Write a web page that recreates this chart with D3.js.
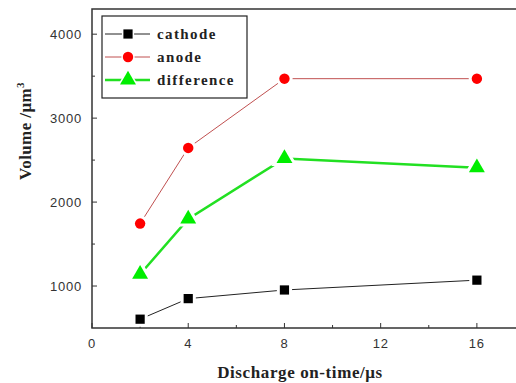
<!DOCTYPE html>
<html>
<head>
<meta charset="utf-8">
<script src="https://cdn.jsdelivr.net/npm/d3@7"></script>
<style>
  body { margin: 0; background: #fff; }
  svg { display: block; }
</style>
</head>
<body>
<div id="chart"></div>
<script>
// discharge on-time (us)
var onTime = [2, 4, 8, 16];
var cathode = [605, 850, 953, 1070];
var anode = [1744, 2645, 3470, 3470];
var difference = [1140, 1800, 2520, 2410];

var xTicks = [0, 4, 8, 12, 16];
var yTicks = [1000, 2000, 3000, 4000];

(function() {
	var width = 516, height = 383;
	var margin = { top: 9, left: 92, bottom: 55 };

	var svg = d3.select("#chart")
		.append("svg")
		.attr("width", width)
		.attr("height", height);

	var xScale = d3.scaleLinear()
		.domain([0, 18])
		.range([margin.left, 525]);

	var yScale = d3.scaleLinear()
		.domain([500, 4300])
		.range([height - margin.bottom, margin.top]);

	var x0 = xScale.range()[0], x1 = xScale.range()[1];
	var y0 = yScale.range()[0], y1 = yScale.range()[1];

	// frame
	svg.append("rect")
		.attr("x", x0)
		.attr("y", y1)
		.attr("width", x1 - x0)
		.attr("height", y0 - y1)
		.attr("fill", "none")
		.attr("stroke", "#333")
		.attr("stroke-width", 1.5);

	// x ticks (inward)
	var xMinor = d3.range(2, 18, 4);
	svg.selectAll(".xtick")
		.data(xTicks)
		.enter()
		.append("line")
		.attr("x1", function(d) { return xScale(d); })
		.attr("x2", function(d) { return xScale(d); })
		.attr("y1", y0)
		.attr("y2", y0 - 5)
		.attr("stroke", "#333");
	svg.selectAll(".xminor")
		.data(xMinor)
		.enter()
		.append("line")
		.attr("x1", function(d) { return xScale(d); })
		.attr("x2", function(d) { return xScale(d); })
		.attr("y1", y0)
		.attr("y2", y0 - 3)
		.attr("stroke", "#333");
	svg.selectAll(".xlabel")
		.data(xTicks)
		.enter()
		.append("text")
		.attr("x", function(d) { return xScale(d); })
		.attr("y", y0 + 20)
		.attr("text-anchor", "middle")
		.attr("font-family", "Liberation Sans, Arial, sans-serif")
		.attr("font-size", 13)
		.attr("letter-spacing", 0.8)
		.attr("fill", "#333")
		.text(function(d) { return d; });

	// y ticks (inward)
	var yMinor = [1500, 2500, 3500];
	svg.selectAll(".ytick")
		.data(yTicks)
		.enter()
		.append("line")
		.attr("x1", x0)
		.attr("x2", x0 + 5)
		.attr("y1", function(d) { return yScale(d); })
		.attr("y2", function(d) { return yScale(d); })
		.attr("stroke", "#333");
	svg.selectAll(".yminor")
		.data(yMinor)
		.enter()
		.append("line")
		.attr("x1", x0)
		.attr("x2", x0 + 3)
		.attr("y1", function(d) { return yScale(d); })
		.attr("y2", function(d) { return yScale(d); })
		.attr("stroke", "#333");
	svg.selectAll(".ylabel")
		.data(yTicks)
		.enter()
		.append("text")
		.attr("x", x0 - 10)
		.attr("y", function(d) { return yScale(d) + 5; })
		.attr("text-anchor", "end")
		.attr("font-family", "Liberation Sans, Arial, sans-serif")
		.attr("font-size", 13)
		.attr("letter-spacing", 0.8)
		.attr("fill", "#333")
		.text(function(d) { return d; });

	// axis titles
	svg.append("text")
		.attr("x", 300)
		.attr("y", 378)
		.attr("text-anchor", "middle")
		.attr("font-family", "Liberation Serif, Times New Roman, serif")
		.attr("font-weight", "bold")
		.attr("font-size", 17)
		.attr("letter-spacing", 0.6)
		.attr("fill", "#222")
		.text("Discharge on-time/μs");

	var yt = svg.append("text")
		.attr("transform", "translate(31,131) rotate(-90)")
		.attr("text-anchor", "middle")
		.attr("font-family", "Liberation Serif, Times New Roman, serif")
		.attr("font-weight", "bold")
		.attr("font-size", 17)
		.attr("letter-spacing", 0.4)
		.attr("fill", "#222");
	yt.append("tspan").text("Volume /μm");
	yt.append("tspan").attr("dy", -7).attr("font-size", 11).text("3");

	var series = [
		{ name: "cathode", values: cathode, line: "#222", marker: "#000", width: 1, shape: d3.symbolSquare, size: 85 },
		{ name: "anode", values: anode, line: "#c05050", marker: "#ff0000", width: 1, shape: d3.symbolCircle, size: 85 },
		{ name: "difference", values: difference, line: "#22e022", marker: "#00ee00", width: 2.5, shape: d3.symbolTriangle, size: 110 }
	];

	var line = d3.line()
		.x(function(d) { return xScale(d[0]); })
		.y(function(d) { return yScale(d[1]); });

	series.forEach(function(s) {
		var pts = onTime.map(function(t, i) { return [t, s.values[i]]; });
		svg.append("path")
			.attr("d", line(pts))
			.attr("fill", "none")
			.attr("stroke", s.line)
			.attr("stroke-width", s.width);
		var sym = d3.symbol().type(s.shape).size(s.size);
		// white halo gives the gap between line and marker
		svg.selectAll(".halo-" + s.name)
			.data(pts)
			.enter()
			.append("path")
			.attr("d", sym)
			.attr("transform", function(d) { return "translate(" + xScale(d[0]) + "," + yScale(d[1]) + ")"; })
			.attr("fill", "#fff")
			.attr("stroke", "#fff")
			.attr("stroke-width", 6);
		svg.selectAll(".pt-" + s.name)
			.data(pts)
			.enter()
			.append("path")
			.attr("d", sym)
			.attr("transform", function(d) { return "translate(" + xScale(d[0]) + "," + yScale(d[1]) + ")"; })
			.attr("fill", s.marker);
	});

	// legend
	var lg = svg.append("g").attr("transform", "translate(102,16)");
	lg.append("rect")
		.attr("width", 145)
		.attr("height", 82)
		.attr("fill", "#fff")
		.attr("stroke", "#222")
		.attr("stroke-width", 1.2);
	series.forEach(function(s, i) {
		var yy = 18 + i * 23;
		var sym = d3.symbol().type(s.shape).size(s.size);
		lg.append("line")
			.attr("x1", 3).attr("x2", 48)
			.attr("y1", yy).attr("y2", yy)
			.attr("stroke", s.line)
			.attr("stroke-width", s.width);
		lg.append("path")
			.attr("d", sym)
			.attr("transform", "translate(26," + yy + ")")
			.attr("fill", "#fff")
			.attr("stroke", "#fff")
			.attr("stroke-width", 3);
		lg.append("path")
			.attr("d", sym)
			.attr("transform", "translate(26," + yy + ")")
			.attr("fill", s.marker);
		lg.append("text")
			.attr("x", 55)
			.attr("y", yy + 5)
			.attr("font-family", "Liberation Serif, Times New Roman, serif")
			.attr("font-weight", "bold")
			.attr("font-size", 15)
			.attr("letter-spacing", 1.4)
			.attr("fill", "#222")
			.text(s.name);
	});
})();
</script>
</body>
</html>
